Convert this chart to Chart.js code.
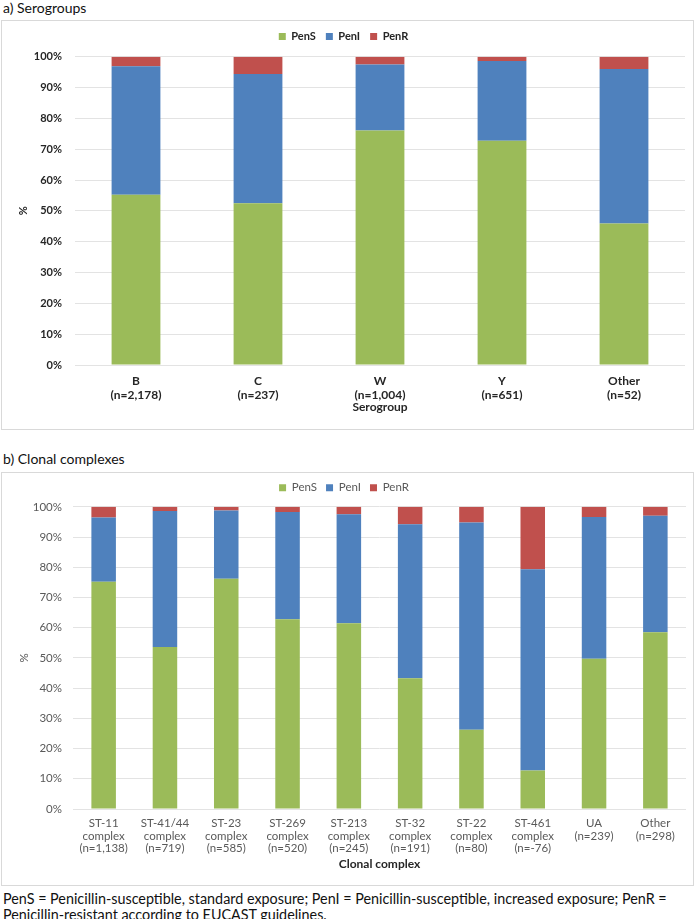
<!DOCTYPE html>
<html>
<head>
<meta charset="utf-8">
<script src="https://cdn.jsdelivr.net/npm/chart.js@4.4.1/dist/chart.umd.min.js"></script>
<style>
body{margin:0;background:#fff;width:696px;height:919px;position:relative;overflow:hidden;font-family:Lato,"Open Sans",sans-serif;color:#111}
.t{position:absolute;left:3px;font-size:14px;line-height:16px;white-space:nowrap}
.box{position:absolute;left:1px;width:691px;border:1px solid #d9d9d9;background:#fff}
</style>
</head>
<body>
<div class="t" style="top:0">a) Serogroups</div>
<div class="box" style="top:20px;height:408px"><canvas id="c1"></canvas></div>
<div class="t" style="top:451px">b) Clonal complexes</div>
<div class="box" style="top:472px;height:412px"><canvas id="c2"></canvas></div>
<div class="t" style="top:891px;font-size:14.35px;line-height:16px">PenS = Penicillin-susceptible, standard exposure; PenI = Penicillin-susceptible, increased exposure; PenR =<br>Penicillin-resistant according to EUCAST guidelines.</div>
<script>
const FONT='Lato, "Open Sans", sans-serif';
const NAMES=['PenS','PenI','PenR'];
const COLORS=['#9bbb59','#4f81bd','#c0504d'];

// a) serogroups, % of isolates
const sgLabels=[['B','(n=2,178)'],['C','(n=237)'],['W','(n=1,004)'],['Y','(n=651)'],['Other','(n=52)']];
const sgPenS=[55.2,52.5,76.1,72.7,45.9];
const sgPenI=[41.7,41.9,21.4,25.9,50.1];
const sgPenR=[3.1,5.6,2.5,1.4,4.0];

// b) clonal complexes
const ccLabels=[['ST-11','complex','(n=1,138)'],['ST-41/44','complex','(n=719)'],['ST-23','complex','(n=585)'],
  ['ST-269','complex','(n=520)'],['ST-213','complex','(n=245)'],['ST-32','complex','(n=191)'],
  ['ST-22','complex','(n=80)'],['ST-461','complex','(n=-76)'],['UA','(n=239)'],['Other','(n=298)']];
const ccPenS=[75.2,53.6,76.2,62.8,61.5,43.3,26.2,12.7,49.7,58.5];
const ccPenI=[21.3,45.0,22.6,35.5,36.0,50.9,68.6,66.6,46.9,38.5];
const ccPenR=[3.5,1.4,1.2,1.7,2.5,5.8,5.2,20.7,3.4,3.0];

function bars(id,labels,vals,o){
  const ds=NAMES.map((n,k)=>({label:n,data:vals[k],backgroundColor:COLORS[k],borderWidth:0,barPercentage:0.4,categoryPercentage:1}));
  const f={family:FONT,size:o.fs,weight:o.bold?'bold':'normal'};
  new Chart(document.getElementById(id),{
    type:'bar',
    data:{labels,datasets:ds},
    options:{
      responsive:true,maintainAspectRatio:false,animation:false,
      layout:{padding:{top:0,right:o.padR,bottom:0,left:0}},
      plugins:{
        tooltip:{enabled:false},
        legend:{labels:{boxWidth:7,boxHeight:7,padding:o.lgPad,color:o.color,font:f}}
      },
      scales:{
        x:{stacked:true,grid:{display:false,drawTicks:false},border:{display:false},
          ticks:{color:o.color,font:{...f,size:o.xfs,lineHeight:o.xlh},padding:o.xPad,maxRotation:0,autoSkip:false},
          title:{display:true,text:o.xTitle,color:'#262626',font:{family:FONT,size:12,weight:'bold'},padding:{top:0,bottom:o.tPad}},
          afterFit:s=>{s.height=o.xH;}},
        y:{stacked:true,min:0,max:100,border:{display:false},grid:{color:'#e3e3e3',drawTicks:false},
          ticks:{stepSize:10,color:o.color,font:f,padding:o.yPad,callback:v=>v+'%'},
          title:{display:true,text:'%',color:o.color,font:f,padding:{top:15,bottom:0}},
          afterFit:s=>{s.width=o.yW;}}
      }
    },
    plugins:[{id:'lgExtra',afterInit(c){const fit=c.legend.fit;c.legend.fit=function(){fit.call(this);this.height+=o.lgExtra;};}}]
  });
}

bars('c1',sgLabels,[sgPenS,sgPenI,sgPenR],{bold:true,fs:11,xfs:12,xlh:1.2,color:'#262626',padR:8,lgPad:10,lgExtra:4.7,
  xPad:9,xH:64,yW:73,yPad:13,tPad:15,xTitle:'Serogroup'});
bars('c2',ccLabels,[ccPenS,ccPenI,ccPenR],{bold:false,fs:11.5,xfs:11.5,xlh:'12.6px',color:'#595959',padR:7,lgPad:9,lgExtra:3.3,
  xPad:8,xH:76,yW:71,yPad:11,tPad:13.5,xTitle:'Clonal complex'});
</script>
</body>
</html>
